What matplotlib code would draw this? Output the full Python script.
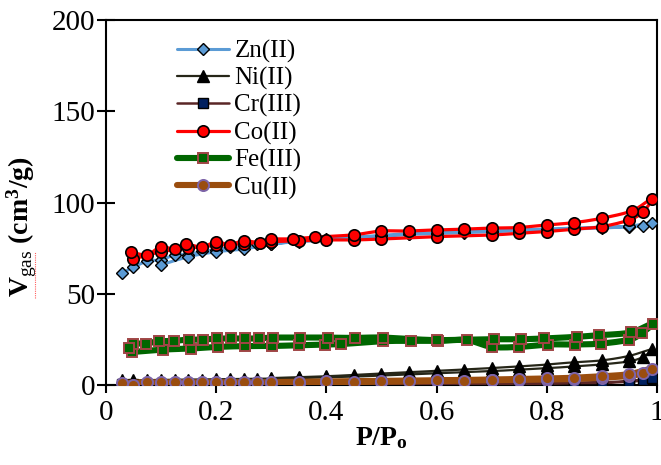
import numpy as np
import matplotlib
matplotlib.use("Agg")
import matplotlib.pyplot as plt
from matplotlib.lines import Line2D

plt.rcParams['font.family'] = ['Liberation Serif', 'DejaVu Serif']
plt.rcParams['mathtext.fontset'] = 'custom'
plt.rcParams['mathtext.rm'] = 'Liberation Serif'
plt.rcParams['mathtext.it'] = 'Liberation Serif:italic'
plt.rcParams['mathtext.bf'] = 'Liberation Serif:bold'

labels = ["Zn(II)", "Ni(II)", "Cr(III)", "Co(II)", "Fe(III)", "Cu(II)"]

# each series: adsorption branch then desorption branch (one looped curve)
zn_p = [0.03, 0.05, 0.075, 0.1, 0.125, 0.15, 0.175, 0.2, 0.225, 0.25, 0.275, 0.3, 0.35, 0.4, 0.45, 0.5,
        0.55, 0.6, 0.65, 0.7, 0.75, 0.8, 0.85, 0.9, 0.95, 0.975, 0.99,
        0.95, 0.9, 0.85, 0.8, 0.75, 0.7, 0.65, 0.6, 0.55, 0.5, 0.45, 0.4, 0.35, 0.3, 0.25, 0.2, 0.15, 0.1]
zn_v = [61.5, 64.5, 68.0, 68.5, 71.3, 71.5, 73.3, 74.0, 75.5, 76.0, 77.0, 77.5, 78.5, 79.5, 80.5, 81.5,
        82.5, 83.0, 83.5, 84.0, 84.5, 85.0, 85.5, 86.0, 86.8, 87.0, 89.0,
        87.0, 86.5, 86.0, 85.5, 85.0, 84.5, 84.0, 83.5, 83.0, 82.0, 81.0, 80.0, 79.0, 77.0, 74.5, 73.0, 70.3, 65.8]

ni_p = [0.03, 0.05, 0.075, 0.1, 0.125, 0.15, 0.175, 0.2, 0.225, 0.25, 0.275, 0.3, 0.35, 0.4, 0.45, 0.5,
        0.55, 0.6, 0.65, 0.7, 0.75, 0.8, 0.85, 0.9, 0.95, 0.975, 0.99,
        0.95, 0.9, 0.85, 0.8, 0.75, 0.7, 0.65, 0.6, 0.55, 0.5, 0.45, 0.4, 0.35, 0.3]
ni_v = [2.5, 2.5, 2.7, 2.8, 2.9, 3.0, 3.0, 3.1, 3.2, 3.3, 3.4, 3.5, 3.8, 4.2, 4.6, 5.2,
        5.8, 6.4, 7.0, 7.6, 8.4, 9.2, 10.2, 11.3, 13.0, 15.5, 19.5,
        16.0, 13.5, 12.5, 11.2, 10.2, 9.3, 8.5, 7.8, 7.1, 6.3, 5.5, 4.8, 4.3, 3.8]

cr_p = [0.03, 0.05, 0.075, 0.1, 0.125, 0.15, 0.175, 0.2, 0.225, 0.25, 0.275, 0.3, 0.35, 0.4, 0.45, 0.5,
        0.6, 0.7, 0.75, 0.8, 0.85, 0.9, 0.95, 0.975, 0.99,
        0.95, 0.9, 0.85, 0.8, 0.7, 0.6, 0.5, 0.4, 0.3]
cr_v = [0.3, 0.3, 0.3, 0.3, 0.3, 0.3, 0.3, 0.3, 0.3, 0.3, 0.3, 0.3, 0.4, 0.4, 0.5, 0.5,
        0.6, 0.7, 0.8, 0.9, 1.0, 1.2, 1.8, 2.6, 3.8,
        2.2, 1.5, 1.2, 1.0, 0.8, 0.7, 0.6, 0.5, 0.4]

co_p = [0.05, 0.1, 0.15, 0.2, 0.25, 0.3, 0.35, 0.4, 0.45, 0.5, 0.6, 0.7, 0.75, 0.8, 0.85, 0.9, 0.95, 0.975, 0.99,
        0.955, 0.9, 0.85, 0.8, 0.75, 0.7, 0.65, 0.6, 0.55, 0.5, 0.45, 0.38, 0.34, 0.3, 0.28, 0.25, 0.225,
        0.2, 0.175, 0.145, 0.125, 0.1, 0.075, 0.045]
co_v = [69.0, 73.0, 75.0, 76.5, 77.5, 78.5, 79.0, 79.5, 79.5, 80.0, 81.3, 82.2, 83.2, 84.1, 85.4, 86.8, 90.5, 95.0, 102.0,
        95.5, 91.4, 89.0, 87.7, 86.3, 86.0, 85.4, 85.0, 84.4, 84.4, 82.3, 81.0, 80.1, 79.9, 78.0, 79.1, 76.8,
        78.6, 75.5, 77.3, 74.4, 75.8, 71.3, 73.1]

fe_p = [0.048, 0.103, 0.154, 0.204, 0.252, 0.302, 0.35, 0.398, 0.426, 0.503, 0.554, 0.603, 0.655, 0.70, 0.75,
        0.803, 0.851, 0.898, 0.95, 0.973, 0.992,
        0.952, 0.895, 0.854, 0.795, 0.754, 0.704, 0.6, 0.503, 0.453, 0.403, 0.353, 0.304, 0.278, 0.253, 0.228,
        0.202, 0.177, 0.151, 0.124, 0.096, 0.073, 0.05, 0.042]
fe_v = [18.1, 19.4, 20.0, 20.9, 21.3, 21.4, 21.8, 22.2, 22.4, 24.0, 24.2, 24.2, 24.6, 20.9, 20.9,
        22.2, 22.2, 22.7, 24.9, 28.6, 33.7,
        28.8, 27.3, 26.4, 25.5, 25.1, 25.1, 24.6, 26.0, 25.8, 26.0, 26.0, 26.0, 25.5, 25.5, 25.5,
        25.5, 24.9, 24.9, 24.2, 24.0, 22.7, 22.7, 20.5]

cu_p = [0.05, 0.1, 0.15, 0.2, 0.25, 0.3, 0.35, 0.4, 0.45, 0.5, 0.55, 0.6, 0.65, 0.7, 0.75, 0.8, 0.85, 0.9,
        0.95, 0.975, 0.99,
        0.95, 0.9, 0.85, 0.8, 0.75, 0.7, 0.6, 0.5, 0.4, 0.35, 0.3, 0.275, 0.25, 0.225, 0.2, 0.175, 0.15,
        0.125, 0.1, 0.075, 0.03]
cu_v = [0.0, 0.5, 0.5, 0.7, 1.0, 1.0, 1.3, 1.5, 1.7, 1.8, 2.0, 2.2, 2.4, 2.6, 2.8, 3.0, 3.3, 4.0,
        5.0, 6.5, 9.0,
        6.0, 4.8, 4.0, 3.6, 3.3, 3.0, 2.6, 2.3, 2.0, 1.8, 1.6, 1.6, 1.6, 1.6, 1.5, 1.5, 1.5,
        1.5, 1.4, 1.5, 1.2]

xticks = [0, 0.2, 0.4, 0.6, 0.8, 1]
xticklabels = ["0", "0.2", "0.4", "0.6", "0.8", "1"]
yticks = [0, 50, 100, 150, 200]


def smooth(x, y, n=12):
    """Catmull-Rom spline through the data points (Excel-like smoothed line)."""
    P = np.column_stack([x, y]).astype(float)
    P = np.vstack([P[0], P, P[-1]])
    out = []
    t = np.linspace(0, 1, n, endpoint=False)[:, None]
    for i in range(1, len(P) - 2):
        p0, p1, p2, p3 = P[i - 1], P[i], P[i + 1], P[i + 2]
        c1 = p1 + (p2 - p0) / 6.0
        c2 = p2 - (p3 - p1) / 6.0
        seg = ((1 - t) ** 3) * p1 + 3 * ((1 - t) ** 2) * t * c1 + 3 * (1 - t) * t ** 2 * c2 + t ** 3 * p2
        out.append(seg)
    out.append(P[-2][None, :])
    S = np.vstack(out)
    return S[:, 0], S[:, 1]


series = [
    (zn_p, zn_v, dict(color='#5b9bd5', lw=2.2, marker='D', ms=6.4, mfc='#5b9bd5', mec='black', mew=1.0)),
    (ni_p, ni_v, dict(color='#262618', lw=1.6, marker='^', ms=8.0, mfc='black', mec='black', mew=1.0)),
    (cr_p, cr_v, dict(color='#5a2626', lw=1.8, marker='s', ms=6.8, mfc='#002060', mec='black', mew=1.0)),
    (co_p, co_v, dict(color='#ff0000', lw=2.3, marker='o', ms=8.2, mfc='#ff0000', mec='black', mew=1.2)),
    (fe_p, fe_v, dict(color='#006600', lw=4.4, marker='s', ms=7.8, mfc='#006600', mec='#a04545', mew=1.4)),
    (cu_p, cu_v, dict(color='#9a4d0e', lw=4.4, marker='o', ms=8.0, mfc='#9a4d0e', mec='#7d64a8', mew=1.4)),
]

fig = plt.figure(figsize=(6.61, 4.65), dpi=100)
ax = fig.add_axes([0.160, 0.172, 0.834, 0.785])

handles = []
for i, (px, vy, st) in enumerate(series):
    sx, sy = smooth(px, vy)
    z = 2 + i * 2
    ax.plot(sx, sy, color=st['color'], lw=st['lw'], solid_capstyle='round', zorder=z)
    ax.plot(px, vy, ls='none', marker=st['marker'], ms=st['ms'], mfc=st['mfc'], mec=st['mec'],
            mew=st['mew'], zorder=z + 1)
    handles.append(Line2D([], [], color=st['color'], lw=st['lw'], marker=st['marker'], ms=st['ms'],
                          mfc=st['mfc'], mec=st['mec'], mew=st['mew'], solid_capstyle='round'))

ax.set_xlim(0, 1)
ax.set_ylim(0, 200)
ax.set_xticks(xticks)
ax.set_xticklabels(xticklabels)
ax.set_yticks(yticks)
ax.tick_params(axis='y', direction='inout', length=13, width=1.5, labelsize=21, pad=1)
ax.tick_params(axis='x', direction='out', length=6, width=1.5, labelsize=21, pad=5)
for s in ax.spines.values():
    s.set_linewidth(1.5)

ax.set_xlabel('P/P$_{\\bf o}$', fontsize=20, fontweight='bold', labelpad=-1)
ax.set_ylabel('V$_{\\rm gas}$ (cm$^{\\bf 3}$/g)', fontsize=20, fontweight='bold')
ax.yaxis.set_label_coords(-0.122, 0.435)

# spell-check style dotted underline beneath "gas"
fig.add_artist(Line2D([35 / 661, 35 / 661], [1 - 298 / 465, 1 - 252 / 465], color='#ff6060',
                      lw=0.8, ls=(0, (1, 1))))

leg = ax.legend(handles, labels, loc='upper left', bbox_to_anchor=(0.129, 0.946), frameon=False,
                fontsize=18, handlelength=2.1, handletextpad=0.2, labelspacing=0.17,
                borderaxespad=0, borderpad=0)

fig.savefig('out.png', dpi=100)
